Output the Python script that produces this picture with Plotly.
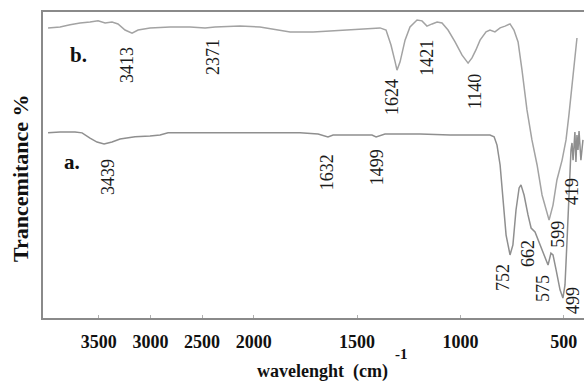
import plotly.graph_objects as go

# ---------------- data (wavenumber cm^-1, transmittance %) ----------------
b_wn = [3991, 3875, 3778, 3681, 3585, 3507, 3439, 3372, 3314, 3246, 3178, 3120, 3004, 2810,
        2617, 2471, 2375, 2133, 1970, 1873, 1824, 1776, 1713, 1631, 1486, 1389, 1360, 1336,
        1316, 1307, 1292, 1268, 1244, 1210, 1186, 1162, 1137, 1113, 1089, 1060, 1026, 992,
        963, 944, 925, 905, 876, 857, 833, 808, 784, 760, 741, 721, 702, 678, 654, 629, 605,
        586, 571, 552, 533, 508, 489, 475, 460, 446, 436]
b_T = [94.8, 95.1, 95.8, 96.4, 96.7, 97.1, 96.4, 96.7, 96.1, 94.1, 93.1, 94.1, 94.8, 95.1,
       95.1, 94.8, 95.1, 95.4, 95.1, 94.1, 93.5, 93.5, 93.5, 93.8, 94.4, 94.8, 94.1, 89.2,
       83.7, 81.0, 83.7, 90.8, 95.1, 97.4, 97.1, 95.4, 96.1, 96.7, 96.4, 94.1, 90.2, 85.9,
       83.3, 85.0, 87.6, 90.8, 93.5, 94.1, 93.5, 94.8, 95.4, 96.1, 94.1, 90.2, 81.0, 68.0,
       58.2, 50.0, 40.2, 35.3, 32.0, 36.9, 45.1, 51.6, 58.2, 66.3, 76.1, 85.9, 91.5]

a_wn = [3991, 3875, 3730, 3662, 3585, 3517, 3449, 3372, 3294, 3149, 3004, 2907, 2830, 2520,
        2036, 1776, 1689, 1660, 1641, 1616, 1486, 1428, 1408, 1394, 1365, 1195, 1050, 905,
        857, 837, 823, 808, 794, 779, 760, 746, 731, 716, 707, 692, 673, 658, 639, 615, 591,
        576, 562, 552, 537, 518, 504, 494, 484, 475, 465, 460, 455, 450, 446, 441, 436, 431,
        426, 417, 407]
a_T = [60.5, 60.8, 60.8, 60.5, 58.8, 57.5, 56.9, 57.5, 58.5, 59.2, 59.5, 59.8, 60.5, 60.5,
       60.5, 60.5, 60.1, 59.5, 59.2, 59.8, 59.8, 59.8, 59.2, 59.5, 60.1, 60.1, 59.8, 59.8,
       59.8, 59.2, 56.5, 50.0, 38.6, 27.1, 20.6, 23.9, 35.3, 42.5, 43.5, 40.2, 33.7, 29.4,
       28.1, 23.9, 19.6, 17.3, 21.2, 20.6, 15.7, 9.2, 6.5, 10.8, 25.5, 41.8, 54.9, 57.2,
       51.6, 56.5, 60.8, 51.0, 59.8, 54.9, 61.1, 51.6, 58.2]

# peak labels: text, wavenumber position, transmittance position
peak_text = ["3413", "2371", "1624", "1421", "1140",
             "3439", "1632", "1499", "752", "662", "575", "599", "499", "419"]
peak_wn = [3226, 2394, 1331, 1162, 929,
           3410, 1645, 1403, 794, 673, 600, 528, 455, 460]
peak_T = [82.7, 85.3, 72.2, 85.0, 73.9,
          46.1, 47.7, 49.3, 13.4, 20.9, 9.5, 27.5, 5.6, 41.2]

series_names = ["b.", "a."]
series_label_wn = [3701, 3759]
series_label_T = [86.0, 51.0]

tick_values = [3500, 3000, 2500, 2000, 1500, 1000, 500]
tick_labels = ["3500", "3000", "2500", "2000", "1500", "1000", "500"]


# split-scale axis: above 2000 cm^-1 compressed by a factor 2
def u(w):
    return w if w <= 2000 else 2000 + (w - 2000) / 2.0


def us(ws):
    return [u(w) for w in ws]


SERIF = "Liberation Serif, Times New Roman, serif"

fig = go.Figure()
fig.add_trace(go.Scatter(x=us(b_wn), y=b_T, mode="lines",
                         line=dict(color="#a3a3a3", width=1.5), showlegend=False,
                         hoverinfo="skip"))
fig.add_trace(go.Scatter(x=us(a_wn), y=a_T, mode="lines",
                         line=dict(color="#8f8f8f", width=1.5), showlegend=False,
                         hoverinfo="skip"))

ann = []
for t, w, T in zip(peak_text, peak_wn, peak_T):
    ann.append(dict(x=u(w), y=T, xref="x", yref="y", text=t, showarrow=False,
                    xanchor="center", yanchor="middle", borderpad=0,
                    textangle=-90, font=dict(family=SERIF, size=18, color="#1b1b1b")))
for t, w, T in zip(series_names, series_label_wn, series_label_T):
    ann.append(dict(x=u(w), y=T, xref="x", yref="y", text="<b>%s</b>" % t, showarrow=False,
                    xanchor="center", yanchor="middle",
                    font=dict(family=SERIF, size=21, color="#111")))

# axis titles
ann.append(dict(x=(322 - 43) / 541, y=-(371 - 318) / 306, xref="paper", yref="paper",
                xanchor="center", yanchor="middle",
                text="<b>wavelenght  (cm)</b>", showarrow=False,
                font=dict(family=SERIF, size=18, color="#111")))
ann.append(dict(x=(401 - 43) / 541, y=-(354 - 318) / 306, xref="paper", yref="paper",
                xanchor="center", yanchor="middle",
                text="<b>-1</b>", showarrow=False,
                font=dict(family=SERIF, size=15, color="#111")))
ann.append(dict(x=-(43 - 20) / 541, y=(318 - 178) / 306, xref="paper", yref="paper",
                xanchor="center", yanchor="middle",
                text="<b>Trancemitance %</b>", showarrow=False, textangle=-90,
                font=dict(family=SERIF, size=22, color="#111")))

fig.update_layout(
    width=584, height=383,
    margin=dict(l=43, r=0, t=12, b=65),
    paper_bgcolor="white", plot_bgcolor="white",
    annotations=ann,
    hovermode=False,
    xaxis=dict(range=[3020, 402], tickvals=us(tick_values), ticktext=tick_labels,
               showgrid=False, zeroline=False, showline=True, mirror=True,
               linecolor="#8a8a8a", linewidth=1.5,
               ticks="inside", ticklen=3, tickcolor="#b0b0b0",
               ticklabelstandoff=7,
               tickfont=dict(family=SERIF, size=18, color="#111", weight="bold")),
    yaxis=dict(range=[0, 100], showticklabels=False, showgrid=False, zeroline=False,
               showline=True, linecolor="#8a8a8a", linewidth=1.5, ticks=""),
)

fig.write_html("out.html", config={"displayModeBar": False},
               post_script="document.body.style.margin='0';")
